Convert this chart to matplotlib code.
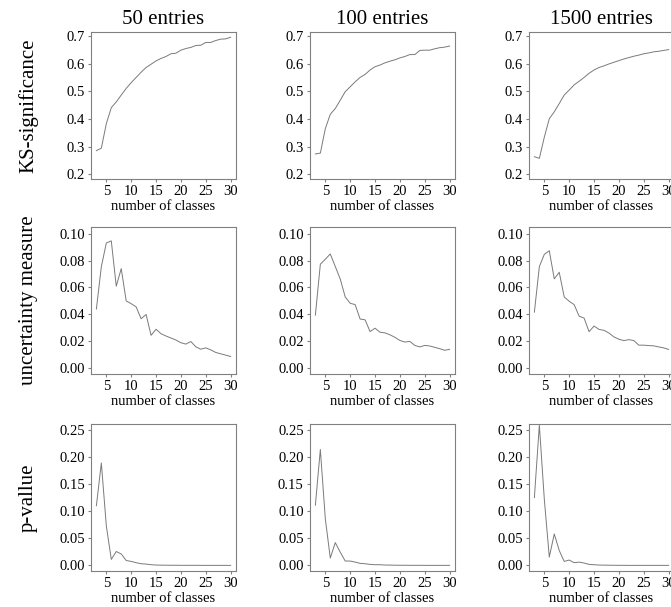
import numpy as np
import matplotlib
matplotlib.use("Agg")
import matplotlib.pyplot as plt

plt.rcParams['font.family'] = ['Liberation Serif', 'DejaVu Serif']

# number of classes
classes = list(range(3, 31))

col_titles = ["50 entries", "100 entries", "1500 entries"]
row_labels = ["KS-significance", "uncertainty measure", "p-vallue"]

# KS-significance
ks_50 = [0.285, 0.294, 0.383, 0.441, 0.462, 0.487, 0.511, 0.532, 0.551, 0.570,
         0.587, 0.599, 0.611, 0.620, 0.627, 0.637, 0.639, 0.650, 0.656, 0.660,
         0.667, 0.668, 0.678, 0.678, 0.685, 0.690, 0.691, 0.697]
ks_100 = [0.273, 0.276, 0.365, 0.417, 0.438, 0.468, 0.499, 0.517, 0.535, 0.551,
          0.562, 0.578, 0.590, 0.596, 0.604, 0.610, 0.615, 0.622, 0.627, 0.634,
          0.634, 0.649, 0.650, 0.650, 0.655, 0.659, 0.661, 0.665]
ks_1500 = [0.263, 0.257, 0.334, 0.401, 0.426, 0.456, 0.487, 0.505, 0.524, 0.537,
           0.551, 0.566, 0.578, 0.587, 0.593, 0.600, 0.606, 0.612, 0.618, 0.623,
           0.628, 0.632, 0.637, 0.640, 0.644, 0.646, 0.649, 0.652]

# uncertainty measure
unc_50 = [0.0440, 0.0755, 0.0930, 0.0946, 0.0610, 0.0740, 0.0500, 0.0480, 0.0456, 0.0368,
          0.0400, 0.0245, 0.0290, 0.0257, 0.0240, 0.0225, 0.0210, 0.0190, 0.0180, 0.0199,
          0.0160, 0.0142, 0.0152, 0.0137, 0.0118, 0.0108, 0.0098, 0.0088]
unc_100 = [0.0395, 0.0773, 0.0810, 0.0849, 0.0756, 0.0663, 0.0530, 0.0483, 0.0473, 0.0366,
           0.0360, 0.0273, 0.0298, 0.0268, 0.0263, 0.0249, 0.0230, 0.0207, 0.0195, 0.0200,
           0.0170, 0.0159, 0.0170, 0.0166, 0.0156, 0.0146, 0.0134, 0.0141]
unc_1500 = [0.0417, 0.0755, 0.0846, 0.0873, 0.0664, 0.0713, 0.0530, 0.0498, 0.0473, 0.0387,
            0.0373, 0.0272, 0.0314, 0.0289, 0.0282, 0.0262, 0.0233, 0.0216, 0.0206, 0.0213,
            0.0206, 0.0172, 0.0172, 0.0169, 0.0167, 0.0159, 0.0152, 0.0140]

# p-value
p_50 = [0.110, 0.189, 0.073, 0.011, 0.0256, 0.021, 0.009, 0.0073, 0.0049, 0.003,
        0.0024, 0.0012, 0.0006, 0.0004, 0.0003, 0.0002, 0.0002, 0.0001, 0.0001, 0.0001,
        0.0001, 0.0, 0.0, 0.0, 0.0, 0.0, 0.0, 0.0]
p_100 = [0.111, 0.214, 0.086, 0.0135, 0.042, 0.0245, 0.008, 0.008, 0.006, 0.0037,
         0.003, 0.0018, 0.0012, 0.0012, 0.0006, 0.0005, 0.0003, 0.0002, 0.0002, 0.0001,
         0.0001, 0.0001, 0.0, 0.0, 0.0, 0.0, 0.0, 0.0]
p_1500 = [0.125, 0.259, 0.122, 0.0152, 0.058, 0.0274, 0.0073, 0.0098, 0.0049, 0.006,
          0.0043, 0.0018, 0.0012, 0.0006, 0.0004, 0.0003, 0.0002, 0.0001, 0.0001, 0.0,
          0.0, 0.0, 0.0, 0.0, 0.0, 0.0, 0.0, 0.0]

data = [[ks_50, ks_100, ks_1500],
        [unc_50, unc_100, unc_1500],
        [p_50, p_100, p_1500]]

ylims = [(0.182, 0.716), (-0.0042, 0.1049), (-0.0104, 0.261)]
yticks = [[0.2, 0.3, 0.4, 0.5, 0.6, 0.7],
          [0.0, 0.02, 0.04, 0.06, 0.08, 0.10],
          [0.0, 0.05, 0.10, 0.15, 0.20, 0.25]]
yfmt = ["%.1f", "%.2f", "%.2f"]

W, H = 671, 607
fig = plt.figure(figsize=(W / 100, H / 100), dpi=100)

lefts = [91, 310, 529]
tops = [32, 227, 424]
aw, ah = 145, 147

grey = "#808080"
for r in range(3):
    for c in range(3):
        ax = fig.add_axes([lefts[c] / W, 1 - (tops[r] + ah) / H, aw / W, ah / H])
        ax.plot(classes, data[r][c], color="#7a7a7a", lw=0.7)
        ax.set_xlim(1.92, 31.08)
        ax.set_ylim(*ylims[r])
        ax.set_xticks([5, 10, 15, 20, 25, 30])
        ax.set_yticks(yticks[r])
        ax.set_yticklabels([yfmt[r] % v for v in yticks[r]])
        for s in ax.spines.values():
            s.set_color(grey)
            s.set_linewidth(0.8)
        ax.tick_params(direction="out", length=2.5, width=0.8, color=grey,
                       labelsize=10.5, pad=2)
        ax.set_xlabel("number of classes", fontsize=10.5, labelpad=1)
        if r == 0:
            ax.set_title(col_titles[c], fontsize=15, pad=6)
    fig.text(28 / W, 1 - (tops[r] + ah / 2) / H, row_labels[r], rotation=90,
             fontsize=15, ha="center", va="center")

fig.savefig("out.png", dpi=100)
